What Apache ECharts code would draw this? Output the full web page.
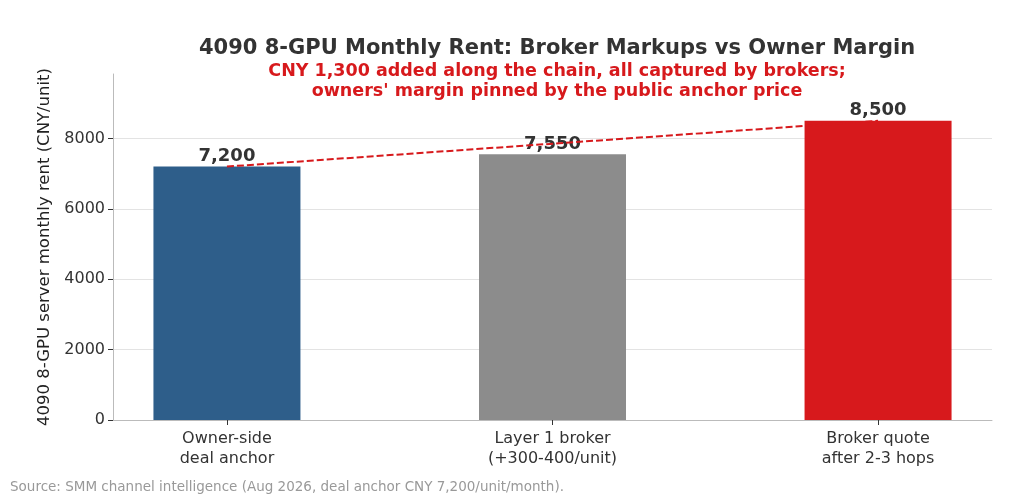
<!DOCTYPE html>
<html>
<head>
<meta charset="utf-8">
<script src="https://cdn.jsdelivr.net/npm/echarts@6/dist/echarts.min.js"></script>
<style>
  html, body { margin: 0; padding: 0; background: #fff; }
  #main { width: 1024px; height: 500px; }
</style>
</head>
<body>
<div id="main"></div>
<script>
let myChart = echarts.init(document.getElementById('main'))

const categories = ['Owner-side\ndeal anchor', 'Layer 1 broker\n(+300-400/unit)', 'Broker quote\nafter 2-3 hops']
const rents = [7200, 7550, 8500]
const barColors = ['#2e5e8a', '#8c8c8c', '#d7191c']
const yTicks = [0, 2000, 4000, 6000, 8000]
// dashed line joins the owner anchor and the final broker quote
const chainPoints = [[0, 7200], [2, 8500]]

const font = "'DejaVu Sans', sans-serif"

let option = {
    backgroundColor: '#fff',
    textStyle: { fontFamily: font },
    title: {
        text: '4090 8-GPU Monthly Rent: Broker Markups vs Owner Margin',
        subtext: "CNY 1,300 added along the chain, all captured by brokers;\nowners' margin pinned by the public anchor price",
        left: 552,
        textAlign: 'center',
        top: 33,
        itemGap: 2,
        textStyle: { fontFamily: font, fontSize: 21, fontWeight: 'bold', color: '#333' },
        subtextStyle: { fontFamily: font, fontSize: 17.5, fontWeight: 'bold', color: '#d7191c', lineHeight: 20 }
    },
    grid: { left: 113, right: 32, top: 74, bottom: 80 },
    xAxis: {
        type: 'value',
        min: -0.35,
        max: 2.35,
        splitLine: { show: false },
        axisLine: { show: true, onZero: false, lineStyle: { color: '#bbb', width: 1 } },
        axisTick: {
            show: true,
            customValues: [0, 1, 2],
            length: 5,
            lineStyle: { color: '#333' }
        },
        axisLabel: {
            customValues: [0, 1, 2],
            formatter: v => categories[Math.round(v)],
            fontFamily: font,
            fontSize: 16,
            color: '#333',
            lineHeight: 20,
            margin: 9
        }
    },
    yAxis: {
        type: 'value',
        min: 0,
        max: 9830,
        name: '4090 8-GPU server monthly rent (CNY/unit)',
        nameLocation: 'middle',
        nameGap: 58,
        nameTextStyle: { fontFamily: font, fontSize: 16.5, color: '#222' },
        axisLine: { show: true, onZero: false, lineStyle: { color: '#bbb', width: 1 } },
        axisTick: { show: true, customValues: yTicks, length: 5, lineStyle: { color: '#333' } },
        axisLabel: {
            customValues: yTicks,
            formatter: v => String(v),
            fontFamily: font,
            fontSize: 16,
            color: '#333',
            margin: 8
        },
        splitLine: { show: false }
    },
    series: [
        {
            type: 'bar',
            barWidth: 147,
            data: rents.map((v, i) => ({ value: [i, v], itemStyle: { color: barColors[i] } })),
            label: {
                show: true,
                position: 'top',
                distance: 1,
                formatter: p => p.value[1].toLocaleString('en-US'),
                fontFamily: font,
                fontSize: 18,
                fontWeight: 'bold',
                color: '#333'
            },
            markLine: {
                silent: true,
                symbol: 'none',
                label: { show: false },
                lineStyle: { color: '#e3e3e3', type: 'solid', width: 1 },
                data: yTicks.filter(v => v > 0).map(v => ({ yAxis: v })),
                z: 0
            },
            z: 2
        },
        {
            type: 'line',
            data: chainPoints,
            symbol: 'none',
            lineStyle: { color: '#d7191c', width: 2, type: [7, 3] },
            z: 5
        }
    ],
    graphic: [
        {
            type: 'text',
            left: 10,
            top: 480,
            style: {
                text: 'Source: SMM channel intelligence (Aug 2026, deal anchor CNY 7,200/unit/month).',
                fontFamily: font,
                fontSize: 13.5,
                fill: '#999'
            }
        }
    ]
}

myChart.setOption(option)
</script>
</body>
</html>
